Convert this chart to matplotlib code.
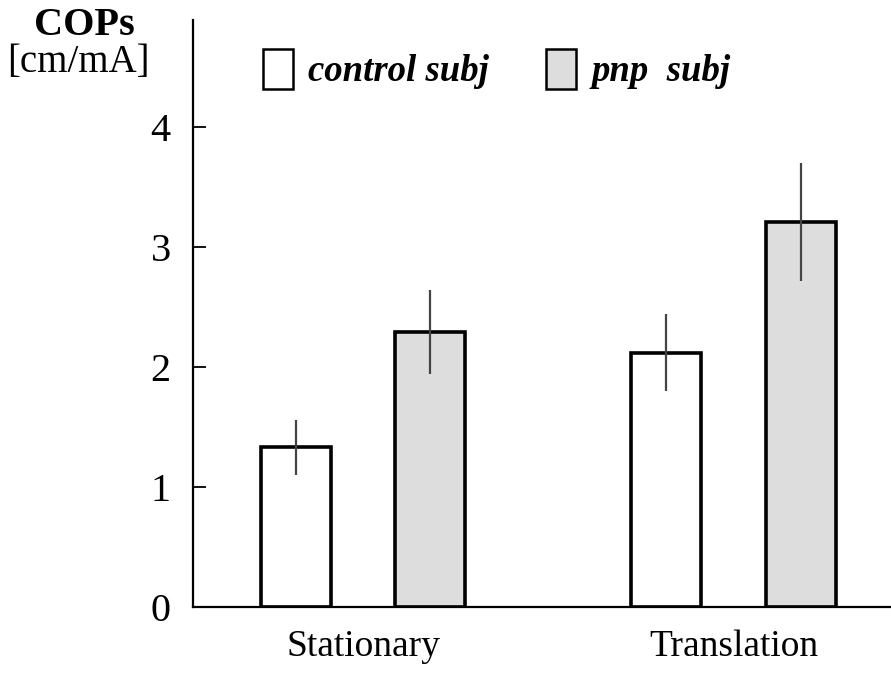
import numpy as np
import matplotlib.pyplot as plt
from matplotlib.patches import Patch

plt.rcParams['font.family'] = ['Liberation Serif', 'DejaVu Serif']

conditions = ['Stationary', 'Translation']
groups = ['control subj', 'pnp  subj']
control_mean = [1.33, 2.12]
control_err = [0.23, 0.32]
pnp_mean = [2.29, 3.21]
pnp_err = [0.35, 0.49]
yticks = [0, 1, 2, 3, 4]

fig = plt.figure(figsize=(8.91, 6.76), dpi=100)
ax = fig.add_axes([0.2166, 0.102, 0.7834, 0.868])

x = np.arange(len(conditions))
offset = 0.181
width = 0.189
bar_style = dict(width=width, edgecolor='black', linewidth=2.6,
                 error_kw=dict(ecolor='#444444', elinewidth=1.6, capsize=0))

ax.bar(x - offset, control_mean, yerr=control_err, color='white', **bar_style)
ax.bar(x + offset, pnp_mean, yerr=pnp_err, color='#dddddd', **bar_style)

ax.set_xlim(-0.459, 1.425)
ax.set_ylim(0, 4.89)
ax.set_yticks(yticks)
ax.set_yticklabels([str(t) for t in yticks], fontsize=29)
ax.set_xticks(x)
ax.set_xticklabels(conditions, fontsize=27)
ax.tick_params(axis='x', length=0, pad=16)
ax.tick_params(axis='y', direction='in', length=9, width=1.3, pad=16)

for s in ['top', 'right']:
    ax.spines[s].set_visible(False)
for s in ['left', 'bottom']:
    ax.spines[s].set_linewidth(1.6)

handles = [Patch(facecolor='white', edgecolor='black', linewidth=1.8),
           Patch(facecolor='#dddddd', edgecolor='black', linewidth=1.8)]
leg = ax.legend(handles, groups, ncol=2, frameon=False, loc='upper left',
                bbox_to_anchor=(0.063, 0.995), handlelength=0.82, handleheight=1.3,
                handletextpad=0.42, columnspacing=1.55, borderpad=0.2,
                prop=dict(family='Liberation Serif', weight='bold', style='italic', size=26.5))

fig.text(0.095, 0.962, 'COPs', ha='center', va='center', fontsize=29, fontweight='bold')
fig.text(0.088, 0.908, '[cm/mA]', ha='center', va='center', fontsize=28)

fig.savefig('out.png', dpi=100)
